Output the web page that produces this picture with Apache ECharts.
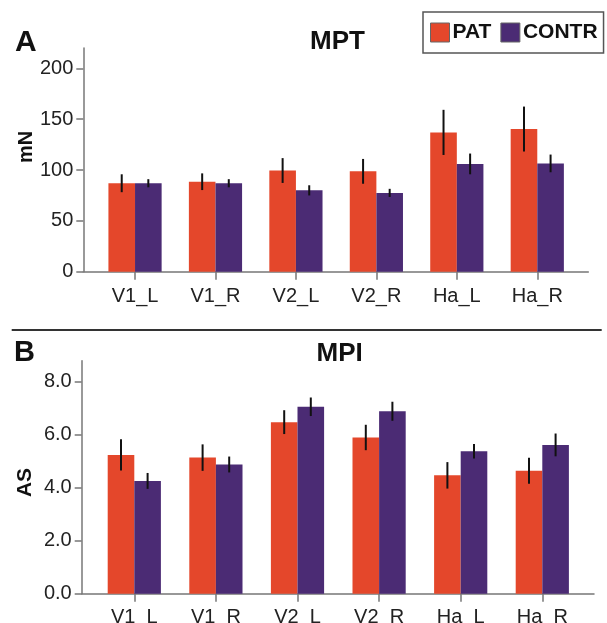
<!DOCTYPE html>
<html><head><meta charset="utf-8">
<script src="https://cdn.jsdelivr.net/npm/echarts@6/dist/echarts.min.js"></script>
<style>html,body{margin:0;padding:0;background:#fff}#c{width:607px;height:623px}</style>
</head><body><div id="c"></div>
<script>
const categories = ['V1_L', 'V1_R', 'V2_L', 'V2_R', 'Ha_L', 'Ha_R'];
const seriesNames = ['PAT', 'CONTR'];
const mptPat = [87, 88.5, 99.5, 98.7, 137, 140.3];
const mptPatErr = [8.8, 8.2, 12.2, 12.2, 22.2, 22.1];
const mptContr = [87, 87, 80, 77.5, 106, 106.5];
const mptContrErr = [4, 4, 5, 4, 10.2, 8.7];
const mpiPat = [5.24, 5.14, 6.48, 5.9, 4.47, 4.64];
const mpiPatErr = [0.59, 0.5, 0.45, 0.48, 0.5, 0.49];
const mpiContr = [4.26, 4.88, 7.06, 6.89, 5.38, 5.62];
const mpiContrErr = [0.3, 0.3, 0.35, 0.36, 0.27, 0.43];
const mptTicks = [0, 50, 100, 150, 200];
const mpiTicks = [0, 2, 4, 6, 8];

const FONT = "'Liberation Sans', Arial, Helvetica, sans-serif";
const RED = '#E4472B';
const PURPLE = '#4B2B74';
const AXIS = '#777';
const BAR_W = 26.6;

const chart = echarts.init(document.getElementById('c'), null, {renderer: 'canvas'});

function errData(vals, errs) {
  return vals.map((v, i) => [i, v - errs[i], v + errs[i]]);
}
function errSeries(name, vals, errs, side, xi, yi) {
  return {
    type: 'custom', name: name, xAxisIndex: xi, yAxisIndex: yi, z: 5,
    silent: true,
    data: errData(vals, errs),
    renderItem: function (params, api) {
      const i = api.value(0);
      const lo = api.coord([i, api.value(1)]);
      const hi = api.coord([i, api.value(2)]);
      const dx = side * BAR_W / 2;
      return {type: 'line', shape: {x1: lo[0] + dx, y1: lo[1], x2: hi[0] + dx, y2: hi[1]},
        style: {stroke: '#111', lineWidth: 2}};
    }
  };
}
function barSeries(name, vals, color, xi, yi) {
  return {type: 'bar', name: name, xAxisIndex: xi, yAxisIndex: yi, data: vals,
    barWidth: BAR_W, barGap: '0%', itemStyle: {color: color}, z: 2};
}
function catAxis(gi, margin) {
  return {type: 'category', gridIndex: gi, data: categories,
    axisLine: {show: false},
    axisTick: {show: true, alignWithLabel: true, length: 8, lineStyle: {color: AXIS, width: 1.5}},
    axisLabel: {fontFamily: FONT, fontSize: 20, color: '#222', margin: margin}};
}
function frameX(gi) {
  return {type: 'value', gridIndex: gi, min: 0, max: 1,
    axisLine: {show: true, lineStyle: {color: AXIS, width: 1.5}},
    axisTick: {show: false}, axisLabel: {show: false}, splitLine: {show: false}};
}
function hiddenY(gi, max) {
  return {type: 'value', gridIndex: gi, min: 0, max: max, show: false, splitLine: {show: false}};
}
function frameY(gi, max, ticks, fmt) {
  return {type: 'value', gridIndex: gi, min: 0, max: max,
    axisLine: {show: true, lineStyle: {color: AXIS, width: 1.5}},
    axisTick: {show: true, length: 7, customValues: ticks, lineStyle: {color: AXIS, width: 1.5}},
    axisLabel: {customValues: ticks, fontFamily: FONT, fontSize: 20, color: '#222', margin: 10, formatter: fmt},
    splitLine: {show: false}};
}
function titleText(text, left, top, size) {
  return {text: text, left: left, top: top, padding: 0,
    textStyle: {fontFamily: FONT, fontSize: size, fontWeight: 'bold', color: '#111'}};
}
function grid(left, right, top, bottom) {
  return {left: left, right: right, top: top, bottom: bottom, containLabel: false, outerBoundsMode: 'none'};
}

const option = {
  backgroundColor: '#fff',
  animation: false,
  title: [
    titleText('A', 15, 27.5, 30),
    titleText('MPT', 310, 28.5, 26),
    titleText('B', 14, 338.5, 29),
    titleText('MPI', 316.5, 340.5, 26)
  ],
  legend: {
    data: seriesNames, left: 423, top: 12, orient: 'horizontal',
    padding: [10, 6, 10, 7], itemGap: 9, itemWidth: 19, itemHeight: 19,
    borderColor: '#555', borderWidth: 1.5,
    icon: 'rect',
    itemStyle: {borderColor: '#666', borderWidth: 1},
    textStyle: {fontFamily: FONT, fontSize: 21, fontWeight: 'bold', color: '#111', padding: [0, 0, 0, -2]}
  },
  grid: [
    grid(94.8, 29.5, 48, 351.3),
    grid(83.3, 18.7, 48, 351.3),
    grid(93.5, 23.9, 360.7, 29.3),
    grid(81.7, 13, 360.7, 29.3)
  ],
  xAxis: [catAxis(0, 15), frameX(1), catAxis(2, 13.5), frameX(3)],
  yAxis: [hiddenY(0, 220), frameY(1, 220, mptTicks, v => String(v)),
          hiddenY(2, 8.8), frameY(3, 8.8, mpiTicks, v => v.toFixed(1))],
  graphic: [
    {type: 'text', x: 26, y: 147, rotation: Math.PI / 2,
      style: {text: 'mN', font: 'bold 20px ' + FONT, fill: '#111', textAlign: 'center', textVerticalAlign: 'middle'}},
    {type: 'text', x: 25, y: 482.5, rotation: Math.PI / 2,
      style: {text: 'AS', font: 'bold 21px ' + FONT, fill: '#111', textAlign: 'center', textVerticalAlign: 'middle'}},
    {type: 'line', shape: {x1: 11.7, y1: 330, x2: 601.7, y2: 330}, style: {stroke: '#333', lineWidth: 2}}
  ],
  series: [
    barSeries(seriesNames[0], mptPat, RED, 0, 0),
    barSeries(seriesNames[1], mptContr, PURPLE, 0, 0),
    errSeries('errPAT_A', mptPat, mptPatErr, -1, 0, 0),
    errSeries('errCONTR_A', mptContr, mptContrErr, 1, 0, 0),
    barSeries(seriesNames[0], mpiPat, RED, 2, 2),
    barSeries(seriesNames[1], mpiContr, PURPLE, 2, 2),
    errSeries('errPAT_B', mpiPat, mpiPatErr, -1, 2, 2),
    errSeries('errCONTR_B', mpiContr, mpiContrErr, 1, 2, 2)
  ]
};
chart.setOption(option);
</script>
</body></html>
